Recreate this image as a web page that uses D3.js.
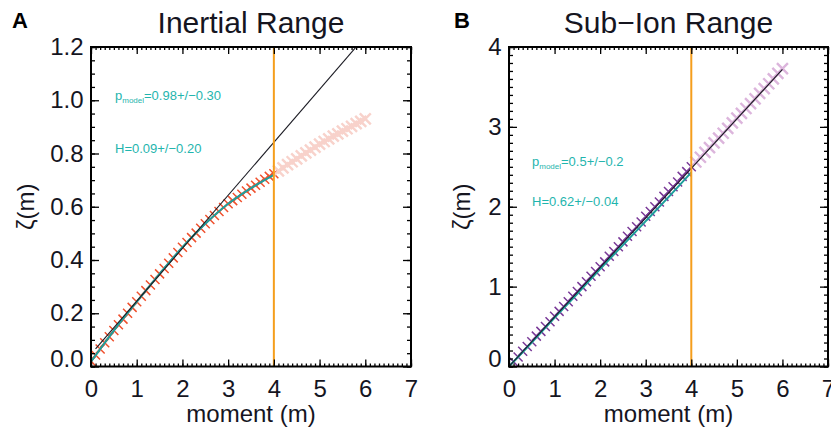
<!DOCTYPE html>
<html><head><meta charset="utf-8">
<script src="https://cdn.jsdelivr.net/npm/d3@7"></script>
<style>html,body{margin:0;padding:0;background:#fff}svg{display:block}</style>
</head><body>
<script>
// ---- data ----
const moments = [0.0,0.1,0.2,0.3,0.4,0.5,0.6,0.7,0.8,0.9,1.0,1.1,1.2,1.3,1.4,1.5,1.6,1.7,1.8,1.9,2.0,2.1,2.2,2.3,2.4,2.5,2.6,2.7,2.8,2.9,3.0,3.1,3.2,3.3,3.4,3.5,3.6,3.7,3.8,3.9,4.0,4.1,4.2,4.3,4.4,4.5,4.6,4.7,4.8,4.9,5.0,5.1,5.2,5.3,5.4,5.5,5.6,5.7,5.8,5.9,6.0];
const zetaInertial = [0.020,0.043,0.066,0.089,0.112,0.135,0.157,0.178,0.200,0.222,0.243,0.264,0.285,0.306,0.327,0.348,0.368,0.388,0.408,0.428,0.448,0.466,0.484,0.501,0.519,0.536,0.552,0.567,0.582,0.597,0.611,0.623,0.635,0.647,0.659,0.670,0.681,0.692,0.703,0.714,0.724,0.735,0.746,0.758,0.769,0.780,0.791,0.802,0.813,0.824,0.835,0.845,0.855,0.865,0.874,0.884,0.893,0.902,0.912,0.921,0.930];
const zetaSubIon = [0.00,0.06,0.12,0.19,0.25,0.31,0.38,0.44,0.50,0.56,0.63,0.69,0.75,0.81,0.88,0.94,1.00,1.06,1.13,1.19,1.25,1.31,1.38,1.44,1.50,1.56,1.63,1.69,1.75,1.81,1.88,1.94,2.00,2.06,2.13,2.19,2.25,2.31,2.38,2.44,2.50,2.56,2.62,2.68,2.74,2.80,2.86,2.92,2.98,3.05,3.11,3.17,3.23,3.29,3.35,3.42,3.48,3.54,3.60,3.67,3.73];
// model (p-model) curves, read at 0.5 steps up to the cut-off
const modelMoments = [0,0.5,1,1.5,2,2.5,3,3.5,4];
const modelInertial = [0.018,0.135,0.243,0.348,0.448,0.536,0.611,0.670,0.720];
const modelSubIon = [0.00,0.30,0.61,0.91,1.22,1.52,1.82,2.12,2.43];
// linear (H) fits
const linInertialX = [0.1,6.0], linInertialY = [0.066,1.240];
const linSubIonX = [0.0,6.0], linSubIonY = [0.00,3.72];
const cutoff = 4;
const xTicks = [0,1,2,3,4,5,6,7];
const yTicksInertial = [0.0,0.2,0.4,0.6,0.8,1.0,1.2];
const yTicksSubIon = [0,1,2,3,4];
const panels = [
  {letter:"A", title:"Inertial Range", zeta:zetaInertial, model:modelInertial, linX:linInertialX, linY:linInertialY,
   yDomain:[0,1.2], yTicks:yTicksInertial, yFmt:d3.format(".1f"), yMinor:0.05,
   left:91, right:411, letterX:12, ylabX:34, col:"#f0502d", colHi:"#f8d2cb",
   pText:"=0.98+/\u22120.30", hText:"H=0.09+/\u22120.20", pY:100, hY:153, txtX:115},
  {letter:"B", title:"Sub\u2212Ion Range", zeta:zetaSubIon, model:modelSubIon, linX:linSubIonX, linY:linSubIonY,
   yDomain:[0,4], yTicks:yTicksSubIon, yFmt:d3.format("d"), yMinor:0.1,
   left:509, right:828, letterX:454, ylabX:470, col:"#7a3a98", colHi:"#dcb5dc",
   pText:"=0.5+/\u22120.2", hText:"H=0.62+/\u22120.04", pY:166, hY:206, txtX:532}
];
const plotTop = 47, plotBottom = 366.5;
const font = "'Liberation Sans', Arial, Helvetica, sans-serif";
const textCol = "#15151f", teal = "#1fb5ae", tealLine = "#1d9f9c", orange = "#f59e1c";

const svg = d3.select("body").append("svg").attr("width",831).attr("height",432)
  .style("font-family", font);

panels.forEach((p,i) => {
  const x = d3.scaleLinear([0,7],[p.left,p.right]);
  const y = d3.scaleLinear(p.yDomain,[plotBottom,plotTop]);
  const g = svg.append("g");
  const cid = "clip"+i;
  svg.append("clipPath").attr("id",cid).append("rect")
    .attr("x",p.left).attr("y",plotTop).attr("width",p.right-p.left).attr("height",plotBottom-plotTop);

  g.append("text").attr("x",p.letterX).attr("y",28).attr("font-size",22).attr("font-weight","bold")
    .attr("fill","#000").text(p.letter);
  g.append("text").attr("x",(p.left+p.right)/2).attr("y",33).attr("text-anchor","middle")
    .attr("font-size",30).attr("fill",textCol).text(p.title);

  const plot = g.append("g").attr("clip-path",`url(#${cid})`);
  const pts = moments.map((m,k)=>({m, z:p.zeta[k]}));
  plot.selectAll("path.mk").data(pts).join("path").attr("class","mk")
    .attr("transform",d=>`translate(${x(d.m)},${y(d.z)})`)
    .attr("d",d=> d.m<=cutoff ? "M-4.5,-4.5L4.5,4.5M-4.5,4.5L4.5,-4.5" : "M-5.5,-5.5L5.5,5.5M-5.5,5.5L5.5,-5.5")
    .attr("stroke",d=> d.m<=cutoff ? p.col : p.colHi)
    .attr("stroke-width",d=> d.m<=cutoff ? 1.5 : 2.4)
    .attr("fill","none");
  plot.append("path").datum(modelMoments.map((m,k)=>[m,p.model[k]]))
    .attr("d", d3.line().x(d=>x(d[0])).y(d=>y(d[1])).curve(d3.curveCatmullRom))
    .attr("fill","none").attr("stroke",tealLine).attr("stroke-width",2);
  plot.append("path").datum(p.linX.map((m,k)=>[m,p.linY[k]]))
    .attr("d", d3.line().x(d=>x(d[0])).y(d=>y(d[1])))
    .attr("fill","none").attr("stroke","#1a1a22").attr("stroke-width",1.1);
  g.append("line").attr("x1",x(cutoff)).attr("x2",x(cutoff)).attr("y1",plotTop).attr("y2",plotBottom)
    .attr("stroke",orange).attr("stroke-width",2);

  const xMinor = d3.range(0,7.001,0.1).map(v=>+v.toFixed(2));
  const yMinor = d3.range(p.yDomain[0],p.yDomain[1]+1e-6,p.yMinor).map(v=>+v.toFixed(3));
  const styleAx = sel => { sel.select(".domain").remove(); sel.selectAll("line").attr("stroke","#000").attr("stroke-width",1.3); };

  g.append("g").attr("transform",`translate(0,${plotBottom})`)
    .call(d3.axisBottom(x).tickValues(xMinor).tickSize(-3).tickFormat("")).call(styleAx);
  const xa = g.append("g").attr("transform",`translate(0,${plotBottom})`)
    .call(d3.axisBottom(x).tickValues(xTicks).tickSize(-7).tickPadding(13).tickFormat(d3.format("d"))).call(styleAx);
  xa.selectAll("text").attr("font-size",24).attr("fill",textCol).attr("font-family",font);
  g.append("g").attr("transform",`translate(0,${plotTop})`)
    .call(d3.axisTop(x).tickValues(xMinor).tickSize(-3).tickFormat("")).call(styleAx);
  g.append("g").attr("transform",`translate(0,${plotTop})`)
    .call(d3.axisTop(x).tickValues(xTicks).tickSize(-7).tickFormat("")).call(styleAx);

  g.append("g").attr("transform",`translate(${p.left},0)`)
    .call(d3.axisLeft(y).tickValues(yMinor).tickSize(-4).tickFormat("")).call(styleAx);
  const ya = g.append("g").attr("transform",`translate(${p.left},0)`)
    .call(d3.axisLeft(y).tickValues(p.yTicks).tickSize(-8).tickPadding(7.5).tickFormat(p.yFmt)).call(styleAx);
  ya.selectAll("text").attr("font-size",24).attr("fill",textCol).attr("font-family",font);
  ya.selectAll(".tick").filter(d=>d===0).select("text").attr("transform","translate(0,-8)");
  g.append("g").attr("transform",`translate(${p.right},0)`)
    .call(d3.axisRight(y).tickValues(yMinor).tickSize(-4).tickFormat("")).call(styleAx);
  g.append("g").attr("transform",`translate(${p.right},0)`)
    .call(d3.axisRight(y).tickValues(p.yTicks).tickSize(-8).tickFormat("")).call(styleAx);

  g.append("rect").attr("x",p.left).attr("y",plotTop).attr("width",p.right-p.left).attr("height",plotBottom-plotTop)
    .attr("fill","none").attr("stroke","#000").attr("stroke-width",2);

  g.append("text").attr("x",(p.left+p.right)/2).attr("y",422).attr("text-anchor","middle")
    .attr("font-size",24).attr("fill",textCol).text("moment (m)");
  g.append("text").attr("transform",`translate(${p.ylabX},${(plotTop+plotBottom)/2}) rotate(-90)`)
    .attr("text-anchor","middle").attr("font-size",24).attr("fill",textCol).text("\u03b6(m)");

  const t1 = g.append("text").attr("x",p.txtX).attr("y",p.pY).attr("font-size",13).attr("fill",teal);
  t1.append("tspan").text("p");
  t1.append("tspan").attr("font-size",8).attr("dy",3).text("model");
  t1.append("tspan").attr("dy",-3).text(p.pText);
  g.append("text").attr("x",p.txtX).attr("y",p.hY).attr("font-size",13).attr("fill",teal).text(p.hText);
});
</script>
</body></html>
